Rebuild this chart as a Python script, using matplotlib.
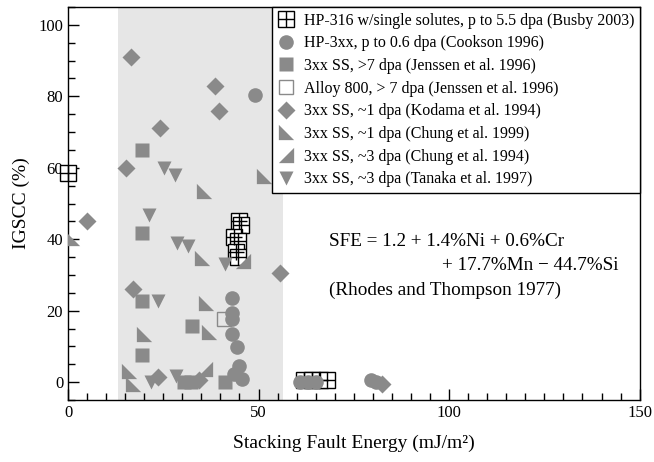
import numpy as np
import matplotlib.pyplot as plt
from matplotlib.legend_handler import HandlerTuple
from matplotlib.ticker import MultipleLocator

plt.rcParams['font.family'] = ['Liberation Serif', 'DejaVu Serif']

# HP-316 w/single solutes (Busby 2003)
busby_x = [0.0, 44.8, 45.5, 43.5, 44.5, 44.0, 44.6, 62.0, 64.0, 66.0, 68.0]
busby_y = [58.5, 45.0, 44.0, 40.5, 39.5, 36.5, 35.0, 0.5, 0.5, 0.5, 0.5]

# HP-3xx (Cookson 1996)
cookson_x = [49.0, 43.0, 43.0, 43.0, 43.0, 44.3, 44.8, 43.5, 45.6, 61.0, 63.0, 65.0, 79.5, 80.8]
cookson_y = [80.4, 23.6, 19.5, 17.6, 13.4, 9.8, 4.5, 2.2, 0.8, 0.0, 0.0, 0.0, 0.5, 0.0]

# 3xx SS >7 dpa (Jenssen 1996)
jenssen_x = [19.4, 19.4, 19.4, 32.6, 19.4, 30.5, 32.2, 41.1]
jenssen_y = [64.9, 41.8, 22.7, 15.7, 7.6, 0.0, 0.0, 0.0]

# Alloy 800 (Jenssen 1996)
alloy_x = [41.0]
alloy_y = [17.6]

# 3xx SS ~1 dpa (Kodama 1994)
kodama_x = [16.4, 38.7, 39.6, 24.1, 15.1, 4.9, 55.6, 17.0, 23.5, 34.5, 82.5]
kodama_y = [91.0, 83.0, 75.8, 71.0, 60.0, 45.0, 30.6, 26.0, 1.4, 0.5, -0.5]

# 3xx SS ~1 dpa (Chung 1999)
chung99_x = [35.6, 51.3, 1.0, 35.2, 36.1, 20.0, 37.0, 16.0, 17.0]
chung99_y = [53.5, 57.6, 40.4, 34.8, 22.2, 13.4, 14.0, 3.2, -0.5]

# 3xx SS ~3 dpa (Chung 1994)
chung94_x = [46.0, 36.0]
chung94_y = [34.0, 3.6]

# 3xx SS ~3 dpa (Tanaka 1997)
tanaka_x = [25.3, 28.1, 21.2, 28.7, 31.6, 41.3, 23.5, 28.3, 21.8]
tanaka_y = [60.0, 58.1, 46.9, 39.0, 38.1, 33.0, 22.7, 1.8, 0.0]

gray = '#8a8a8a'
tri_ll = [(-1, -1), (-1, 1), (1, -1), (-1, -1)]
tri_lr = [(1, -1), (1, 1), (-1, -1), (1, -1)]

fig = plt.figure(figsize=(6.54, 4.62), dpi=100)
ax = fig.add_axes([0.104, 0.134, 0.874, 0.851])

ax.axvspan(13, 56.5, color='#e6e6e6', lw=0, zorder=0)

b_sq, = ax.plot(busby_x, busby_y, 's', ms=11, mfc='white', mec='black', mew=1.0,
                ls='none', zorder=2, clip_on=False)
b_pl, = ax.plot(busby_x, busby_y, '+', ms=11, mec='black', mew=1.0, ls='none',
                zorder=2, clip_on=False)
h_ck, = ax.plot(cookson_x, cookson_y, 'o', ms=10.5, color=gray, mec='none', ls='none', zorder=3)
h_jn, = ax.plot(jenssen_x, jenssen_y, 's', ms=10, color=gray, mec='none', ls='none', zorder=3)
h_al, = ax.plot(alloy_x, alloy_y, 's', ms=10, mfc='none', mec=gray, mew=1.0, ls='none', zorder=3)
h_kd, = ax.plot(kodama_x, kodama_y, 'D', ms=9, color=gray, mec='none', ls='none', zorder=3)
h_c9, = ax.plot(chung99_x, chung99_y, marker=tri_ll, ms=11, color=gray, mec='none', ls='none', zorder=3)
h_c4, = ax.plot(chung94_x, chung94_y, marker=tri_lr, ms=11, color=gray, mec='none', ls='none', zorder=3)
h_tn, = ax.plot(tanaka_x, tanaka_y, 'v', ms=10, color=gray, mec='none', ls='none', zorder=3)

ax.set_xlim(0, 150)
ax.set_ylim(-5, 105)
ax.xaxis.set_major_locator(MultipleLocator(50))
ax.xaxis.set_minor_locator(MultipleLocator(5))
ax.yaxis.set_major_locator(MultipleLocator(20))
ax.yaxis.set_minor_locator(MultipleLocator(5))
ax.tick_params(which='both', direction='in', top=False, right=False, labelsize=12)
ax.tick_params(which='major', length=8, width=1)
ax.tick_params(which='minor', length=5, width=1)
for s in ax.spines.values():
    s.set_linewidth(1.0)

ax.set_xlabel('Stacking Fault Energy (mJ/m²)', fontsize=14, labelpad=10)
ax.set_ylabel('IGSCC (%)', fontsize=14, labelpad=6)

ax.text(68.5, 38.0, 'SFE = 1.2 + 1.4%Ni + 0.6%Cr', fontsize=13.8)
ax.text(144.5, 31.3, '+ 17.7%Mn \u2212 44.7%Si', fontsize=13.8, ha='right')
ax.text(68.5, 24.5, '(Rhodes and Thompson 1977)', fontsize=13.8)

handles = [(b_sq, b_pl), h_ck, h_jn, h_al, h_kd, h_c9, h_c4, h_tn]
labels = ['HP-316 w/single solutes, p to 5.5 dpa (Busby 2003)',
          'HP-3xx, p to 0.6 dpa (Cookson 1996)',
          '3xx SS, >7 dpa (Jenssen et al. 1996)',
          'Alloy 800, > 7 dpa (Jenssen et al. 1996)',
          '3xx SS, ~1 dpa (Kodama et al. 1994)',
          '3xx SS, ~1 dpa (Chung et al. 1999)',
          '3xx SS, ~3 dpa (Chung et al. 1994)',
          '3xx SS, ~3 dpa (Tanaka et al. 1997)']
leg = ax.legend(handles, labels, loc='upper right', borderaxespad=0, fontsize=11.5,
                handler_map={tuple: HandlerTuple(ndivide=1, pad=0)},
                fancybox=False, framealpha=1, edgecolor='black', handlelength=1.0,
                handletextpad=0.6, labelspacing=0.42, borderpad=0.35)
leg.get_frame().set_linewidth(1.0)

fig.savefig('out.png', dpi=100)
